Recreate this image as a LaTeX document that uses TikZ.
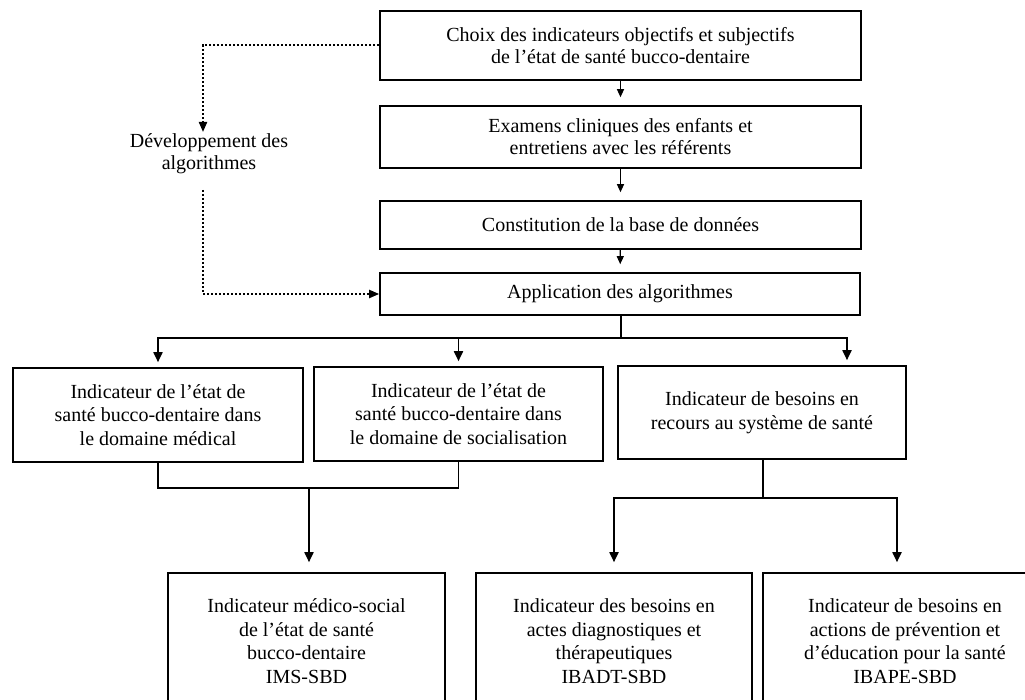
\documentclass[tikz,border=0pt]{standalone}
\usepackage{fontspec}
\setmainfont{Liberation Serif}
\usetikzlibrary{arrows.meta}

\begin{document}
\begin{tikzpicture}[
    x=0.5pt, y=-0.5pt,
    box/.style={draw, rectangle, line width=0.8pt, align=center, inner sep=2pt, font=\fontsize{10}{11}\selectfont},
    lowbox/.style={box, font=\fontsize{10}{11.8}\selectfont},
    arrow/.style={-{Triangle[length=5pt,width=4.5pt]}, line width=0.9pt, shorten >=2.5pt},
    smallarrow/.style={-{Triangle[length=4pt,width=3.5pt]}, line width=0.6pt, shorten >=4pt},
    link/.style={line width=0.9pt},
    dotarrow/.style={densely dotted, line width=1pt, -{Triangle[length=5pt,width=4pt]}}
]
    \useasboundingbox (0,0) rectangle (1025,700);
    \clip (0,0) rectangle (1025,700);

    % Nodes
    \node[box, minimum width=240.5pt, minimum height=34.5pt] (choix) at (620.5,45.5) {Choix des indicateurs objectifs et subjectifs\\de l’état de santé bucco-dentaire};
    \node[box, minimum width=240.5pt, minimum height=31pt] (examens) at (620.5,137) {Examens cliniques des enfants et\\entretiens avec les référents};
    \node[box, minimum width=240.5pt, minimum height=24pt] (base) at (620.5,225) {Constitution de la base de données};
    \node[box, minimum width=240pt, minimum height=21pt] (appli) at (620,294) {Application des algorithmes};

    \node[lowbox, minimum width=145pt, minimum height=47pt] (medical) at (158,415) {Indicateur de l’état de\\santé bucco-dentaire dans\\le domaine médical};
    \node[lowbox, minimum width=144.5pt, minimum height=47pt] (social) at (458.5,414) {Indicateur de l’état de\\santé bucco-dentaire dans\\le domaine de socialisation};
    \node[lowbox, minimum width=144pt, minimum height=46.5pt] (besoins) at (762,412.5) {Indicateur de besoins en\\recours au système de santé};

    \node[lowbox, minimum width=138.5pt, minimum height=68pt] (ims) at (306.5,641) {Indicateur médico-social\\de l’état de santé\\bucco-dentaire\\IMS-SBD};
    \node[lowbox, minimum width=138pt, minimum height=68pt] (ibadt) at (614,641) {Indicateur des besoins en\\actes diagnostiques et\\thérapeutiques\\IBADT-SBD};
    \node[lowbox, minimum width=142pt, minimum height=68pt] (ibape) at (905,641) {Indicateur de besoins en\\actions de prévention et\\d’éducation pour la santé\\IBAPE-SBD};

    \node[align=center, font=\fontsize{10}{11}\selectfont] (devel) at (209,154) {Développement des\\algorithmes};

    % Helper points
    \coordinate (dtop) at (203,132);
    \coordinate (dbot) at (203,190);
    \coordinate (split) at (621,338);
    \coordinate (merge) at (309,488);
    \coordinate (fork) at (763,498);

    % Connections
    \draw[smallarrow] (choix) -- (examens);
    \draw[smallarrow] (examens) -- (base);
    \draw[smallarrow] (base) -- (appli);

    \draw[dotarrow] (choix.west) -| (dtop);
    \draw[dotarrow] (dbot) |- (appli.west);

    \draw[link] (appli.south -| split) -- (split);
    \draw[arrow] (split) -| (medical.north);
    \draw[arrow] (split) -| (social.north);
    \draw[arrow] (split) -| ([xshift=42.5pt]besoins.north);

    \draw[link] (medical.south) |- (merge) -| (social.south);
    \draw[arrow, shorten >=5pt] (merge) -- (merge |- ims.north);

    \draw[link] (besoins.south -| fork) -- (fork);
    \draw[arrow, shorten >=5pt] (fork) -| (ibadt.north);
    \draw[arrow, shorten >=5pt] (fork) -| ([xshift=-4pt]ibape.north);
\end{tikzpicture}
\end{document}
